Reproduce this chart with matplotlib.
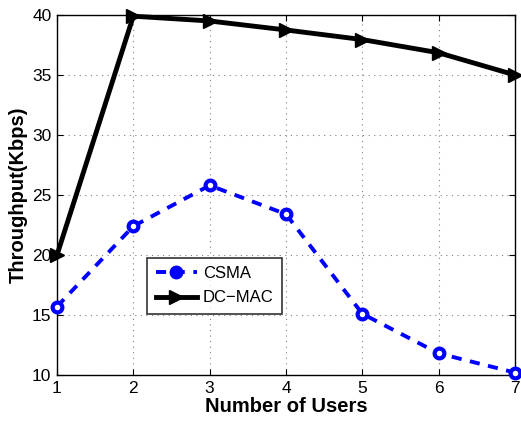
import matplotlib
matplotlib.use("Agg")
import matplotlib.pyplot as plt

# numero de usuarios
users = [1, 2, 3, 4, 5, 6, 7]
# vazao (Kbps)
csma = [15.7, 22.4, 25.8, 23.4, 15.1, 11.8, 10.2]
dcmac = [20.0, 39.9, 39.5, 38.75, 37.95, 36.85, 35.0]

plt.rcParams['font.family'] = ['Liberation Sans', 'DejaVu Sans']

fig = plt.figure(figsize=(5.21, 4.22), dpi=100)
ax = fig.add_axes([0.1094, 0.1114, 0.8791, 0.8531])

ax.plot(users, csma, color='blue', linestyle='--', linewidth=2.8,
        dashes=(2.6, 2.2), marker='o', markersize=7, markeredgewidth=3,
        markerfacecolor='white', markeredgecolor='blue', label='CSMA',
        clip_on=False, zorder=3)
ax.plot(users, dcmac, color='black', linestyle='-', linewidth=3.5,
        marker='>', markersize=10, markerfacecolor='black',
        label='DC\u2212MAC', clip_on=False, zorder=4)

ax.set_xlim(1, 7)
ax.set_ylim(10, 40)
ax.set_xticks(users)
ax.set_yticks([10, 15, 20, 25, 30, 35, 40])
ax.grid(True, linestyle=(0, (1, 4)), color='gray', linewidth=0.8)
ax.tick_params(direction='in', labelsize=12.5, top=True, right=True,
               length=4, pad=4)
for s in ax.spines.values():
    s.set_linewidth(1.0)

ax.set_xlabel("Number of Users", fontsize=14.5, fontweight='bold', labelpad=1)
ax.set_ylabel("Throughput(Kbps)", fontsize=14.5, fontweight='bold', labelpad=3)

leg = ax.legend(loc='upper left', bbox_to_anchor=(0.197, 0.325), fontsize=12,
                frameon=True, fancybox=False, edgecolor='black',
                borderaxespad=0, borderpad=0.5, handlelength=2.5,
                labelspacing=0.55, handletextpad=0.35)
leg.get_frame().set_linewidth(1.2)
leg.legend_handles[0].set_markerfacecolor('blue')

fig.savefig("out.png", dpi=100)
